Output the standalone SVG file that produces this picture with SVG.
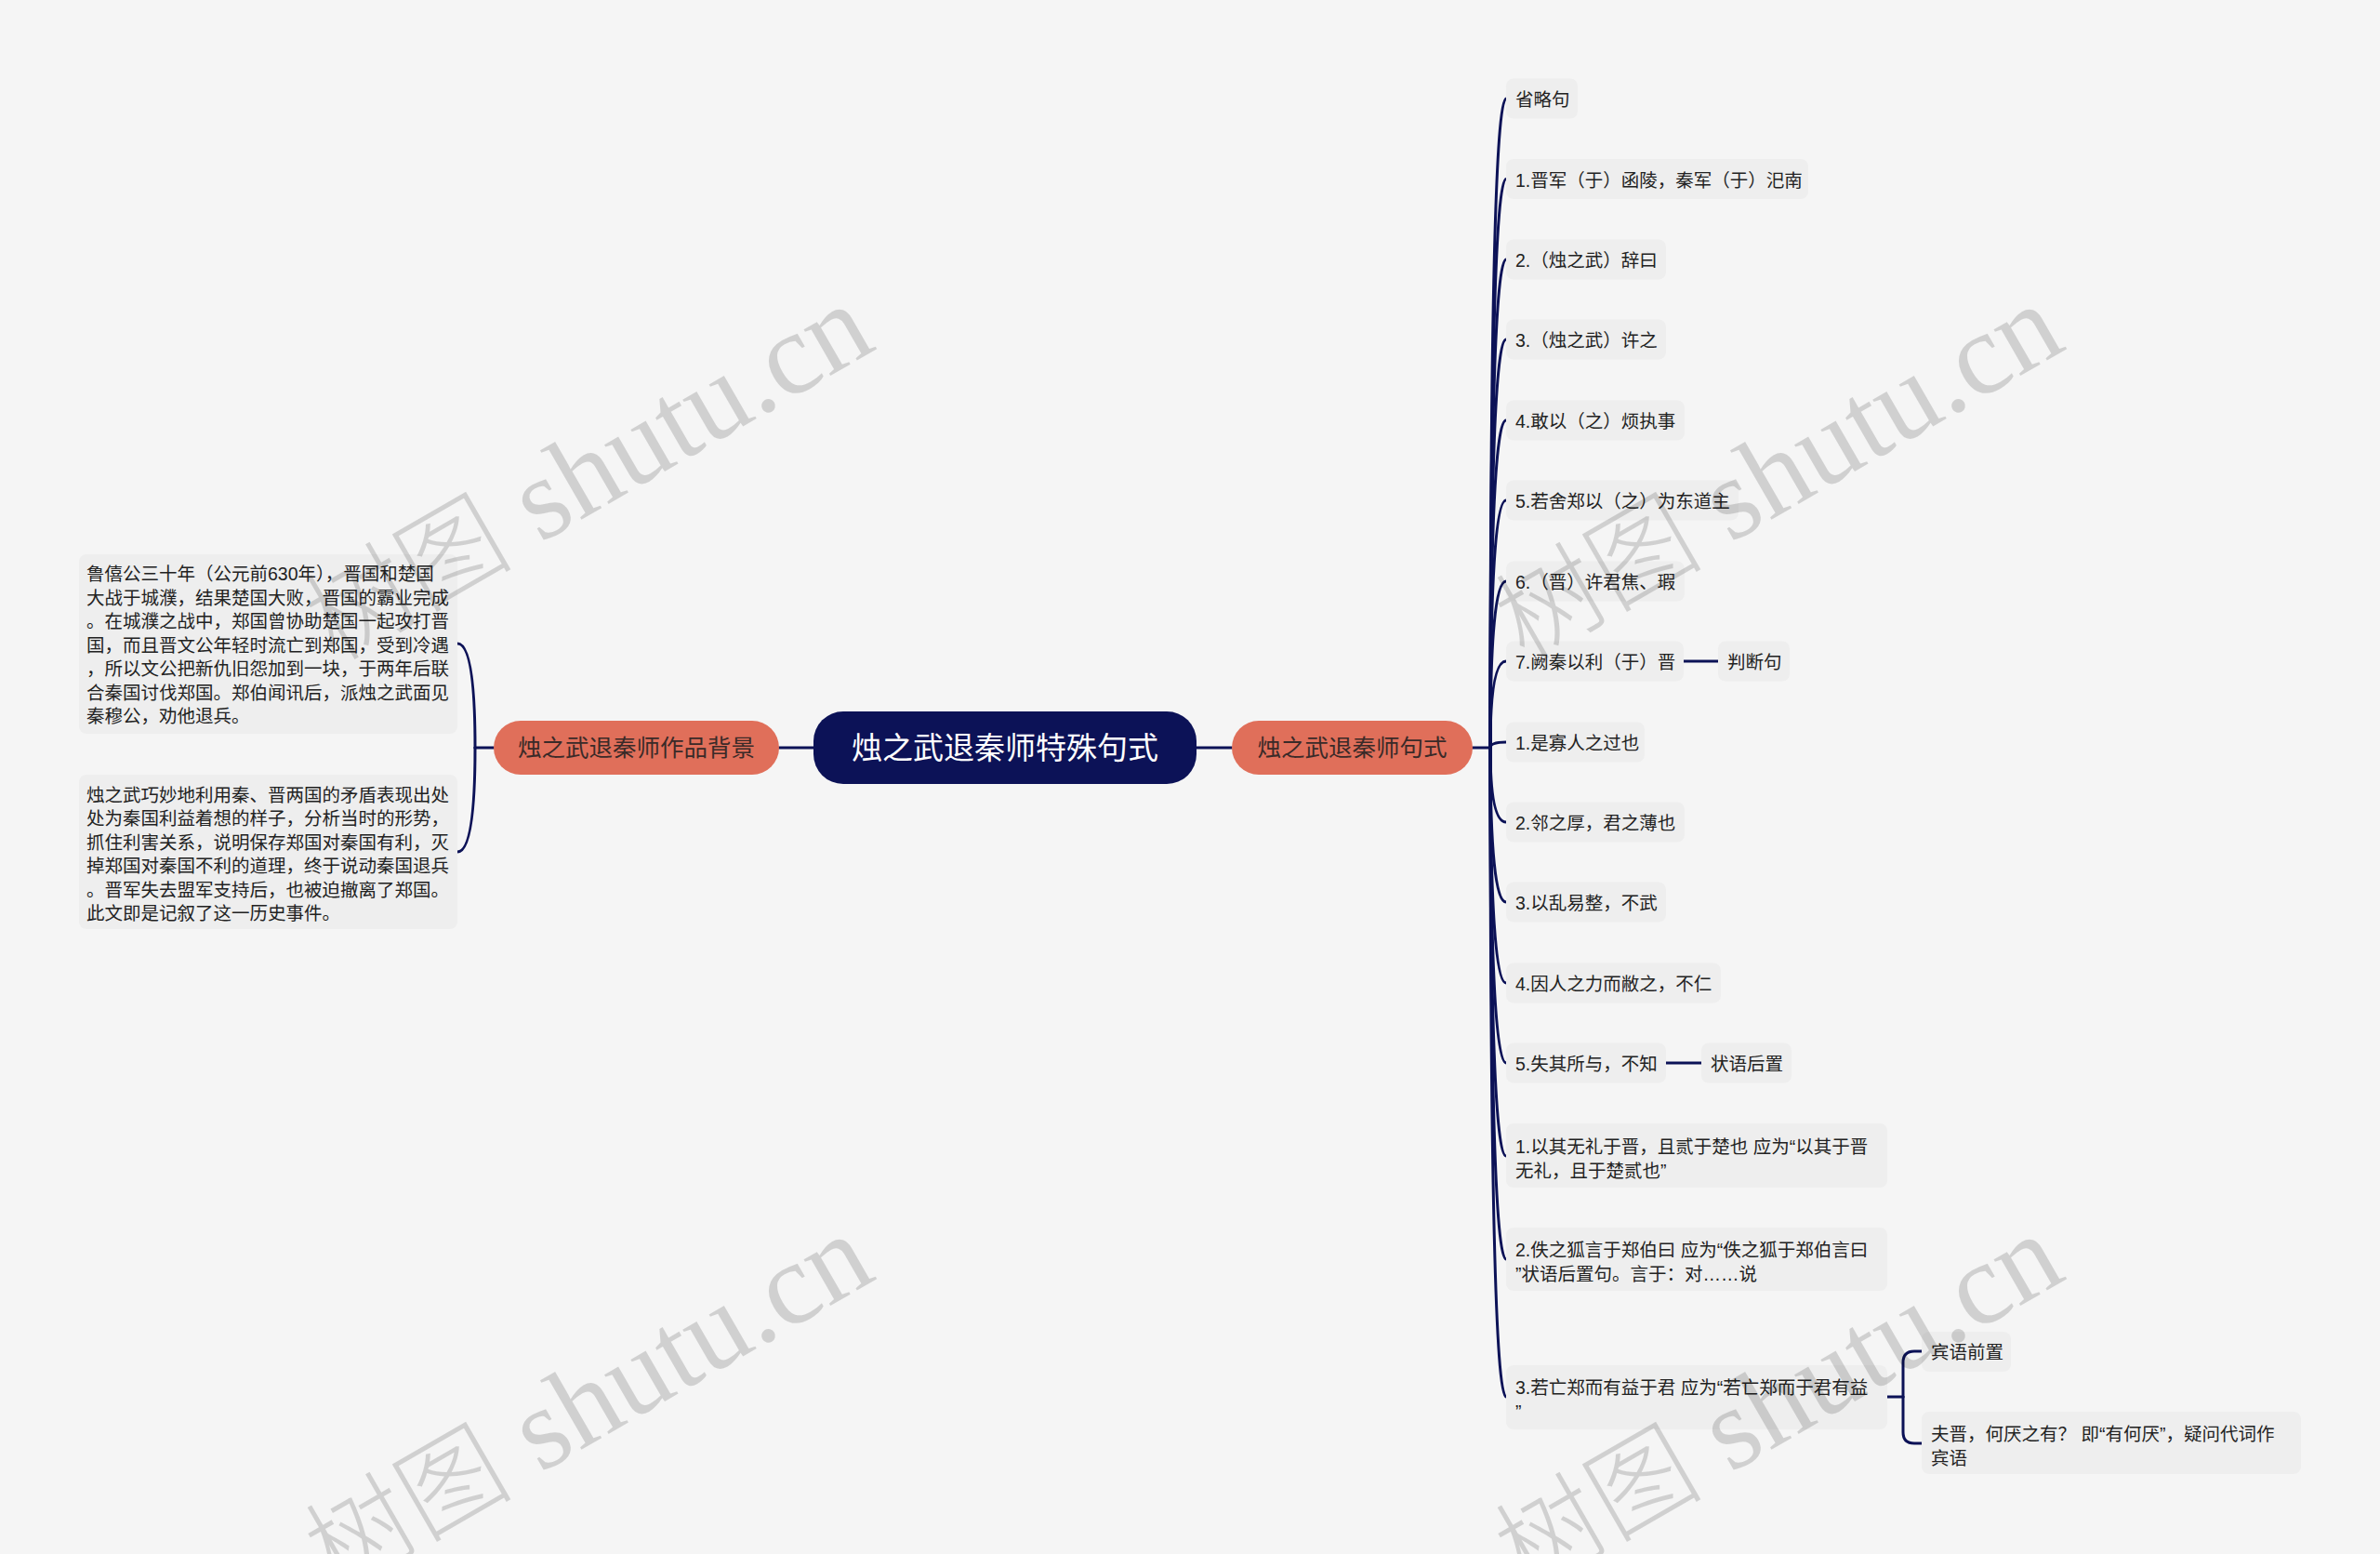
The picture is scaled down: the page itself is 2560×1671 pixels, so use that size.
<svg xmlns="http://www.w3.org/2000/svg" width="2560" height="1671" viewBox="0 0 2560 1671">
<style>
.bg{fill:#f5f5f5}
.box{fill:#eeeeee}
.t{font-family:"Liberation Sans","Noto Sans CJK SC",sans-serif;font-size:19.5px;fill:#222}
.root{fill:#0c1257}
.rt{font-family:"Liberation Sans","Noto Sans CJK SC",sans-serif;font-size:33px;fill:#ffffff;text-anchor:middle}
.br{fill:#e06f5a}
.bt{font-family:"Liberation Sans","Noto Sans CJK SC",sans-serif;font-size:25.5px;fill:#3a2a28;text-anchor:middle}
.ln{fill:none;stroke:#0c1257;stroke-width:3;stroke-linecap:round}
.wm{font-family:"Liberation Serif","Noto Sans CJK SC",serif;font-size:125px;fill:#000;fill-opacity:0.15}
.wc{font-size:112px;font-weight:300}
</style>
<rect class="bg" x="0" y="0" width="2560" height="1671"/>

<g id="connectors">
  <path class="ln" d="M875 804 H838"/>
  <path class="ln" d="M1287 804 H1325"/>
  <path class="ln" d="M531 804 H511"/>
  <path class="ln" d="M511 804 Q511 692 492 692"/>
  <path class="ln" d="M511 804 Q511 916 492 916"/>
  <path class="ln" d="M1584 804 H1603"/>
  <path class="ln" d="M1603 804 Q1603 106 1620 106"/>
  <path class="ln" d="M1603 804 Q1603 192.5 1620 192.5"/>
  <path class="ln" d="M1603 804 Q1603 279 1620 279"/>
  <path class="ln" d="M1603 804 Q1603 365 1620 365"/>
  <path class="ln" d="M1603 804 Q1603 452 1620 452"/>
  <path class="ln" d="M1603 804 Q1603 538 1620 538"/>
  <path class="ln" d="M1603 804 Q1603 625 1620 625"/>
  <path class="ln" d="M1603 804 Q1603 711 1620 711"/>
  <path class="ln" d="M1603 804 Q1603 798 1620 798"/>
  <path class="ln" d="M1603 804 Q1603 884 1620 884"/>
  <path class="ln" d="M1603 804 Q1603 970 1620 970"/>
  <path class="ln" d="M1603 804 Q1603 1057 1620 1057"/>
  <path class="ln" d="M1603 804 Q1603 1143 1620 1143"/>
  <path class="ln" d="M1603 804 Q1603 1243 1620 1243"/>
  <path class="ln" d="M1603 804 Q1603 1354 1620 1354"/>
  <path class="ln" d="M1603 804 Q1603 1502 1620 1502"/>
  <path class="ln" d="M1811 711 H1848"/>
  <path class="ln" d="M1792 1143 H1830"/>
  <path class="ln" d="M2030 1502 H2047"/>
  <path class="ln" d="M2047 1502 V1465 Q2047 1453 2059 1453 H2067"/>
  <path class="ln" d="M2047 1502 V1540 Q2047 1552 2059 1552 H2067"/>
</g>

<g id="root">
  <rect class="root" x="875" y="765" width="412" height="78" rx="32"/>
  <text class="rt" x="1081" y="816">烛之武退秦师特殊句式</text>
</g>

<g id="branch-left">
  <rect class="br" x="531" y="775" width="307" height="58" rx="29"/>
  <text class="bt" x="684.5" y="813">烛之武退秦师作品背景</text>
</g>

<g id="branch-right">
  <rect class="br" x="1325" y="775" width="259" height="58" rx="29"/>
  <text class="bt" x="1454.5" y="813">烛之武退秦师句式</text>
</g>

<g id="bg1">
  <rect class="box" x="85" y="596" width="407" height="193" rx="8"/>
  <text class="t">
    <tspan x="93" y="624">鲁僖公三十年（公元前630年），晋国和楚国</tspan>
    <tspan x="93" y="649.5">大战于城濮，结果楚国大败，晋国的霸业完成</tspan>
    <tspan x="93" y="675">。在城濮之战中，郑国曾协助楚国一起攻打晋</tspan>
    <tspan x="93" y="700.5">国，而且晋文公年轻时流亡到郑国，受到冷遇</tspan>
    <tspan x="93" y="726">，所以文公把新仇旧怨加到一块，于两年后联</tspan>
    <tspan x="93" y="751.5">合秦国讨伐郑国。郑伯闻讯后，派烛之武面见</tspan>
    <tspan x="93" y="777">秦穆公，劝他退兵。</tspan>
  </text>
</g>

<g id="bg2">
  <rect class="box" x="85" y="833" width="407" height="166" rx="8"/>
  <text class="t">
    <tspan x="93" y="861.5">烛之武巧妙地利用秦、晋两国的矛盾表现出处</tspan>
    <tspan x="93" y="887">处为秦国利益着想的样子，分析当时的形势，</tspan>
    <tspan x="93" y="912.5">抓住利害关系，说明保存郑国对秦国有利，灭</tspan>
    <tspan x="93" y="938">掉郑国对秦国不利的道理，终于说动秦国退兵</tspan>
    <tspan x="93" y="963.5">。晋军失去盟军支持后，也被迫撤离了郑国。</tspan>
    <tspan x="93" y="989">此文即是记叙了这一历史事件。</tspan>
  </text>
</g>

<g id="n-shenglue">
  <rect class="box" x="1620" y="84.5" width="77" height="43" rx="8"/>
  <text class="t" x="1630" y="114">省略句</text>
</g>
<g id="n-s1">
  <rect class="box" x="1620" y="171" width="325" height="43" rx="8"/>
  <text class="t" x="1630" y="200.5">1.晋军（于）函陵，秦军（于）汜南</text>
</g>
<g id="n-s2">
  <rect class="box" x="1620" y="257.5" width="172" height="43" rx="8"/>
  <text class="t" x="1630" y="287">2.（烛之武）辞曰</text>
</g>
<g id="n-s3">
  <rect class="box" x="1620" y="343.5" width="172" height="43" rx="8"/>
  <text class="t" x="1630" y="373">3.（烛之武）许之</text>
</g>
<g id="n-s4">
  <rect class="box" x="1620" y="430.5" width="192" height="43" rx="8"/>
  <text class="t" x="1630" y="460">4.敢以（之）烦执事</text>
</g>
<g id="n-s5">
  <rect class="box" x="1620" y="516.5" width="250" height="43" rx="8"/>
  <text class="t" x="1630" y="546">5.若舍郑以（之）为东道主</text>
</g>
<g id="n-s6">
  <rect class="box" x="1620" y="603.5" width="192" height="43" rx="8"/>
  <text class="t" x="1630" y="633">6.（晋）许君焦、瑕</text>
</g>
<g id="n-s7">
  <rect class="box" x="1620" y="689.5" width="191" height="43" rx="8"/>
  <text class="t" x="1630" y="719">7.阙秦以利（于）晋</text>
</g>
<g id="n-panduan">
  <rect class="box" x="1848" y="689.5" width="77" height="43" rx="8"/>
  <text class="t" x="1858" y="719">判断句</text>
</g>
<g id="n-p1">
  <rect class="box" x="1620" y="776.5" width="149" height="43" rx="8"/>
  <text class="t" x="1630" y="806">1.是寡人之过也</text>
</g>
<g id="n-p2">
  <rect class="box" x="1620" y="862.5" width="192" height="43" rx="8"/>
  <text class="t" x="1630" y="892">2.邻之厚，君之薄也</text>
</g>
<g id="n-p3">
  <rect class="box" x="1620" y="948.5" width="172" height="43" rx="8"/>
  <text class="t" x="1630" y="978">3.以乱易整，不武</text>
</g>
<g id="n-p4">
  <rect class="box" x="1620" y="1035.5" width="231" height="43" rx="8"/>
  <text class="t" x="1630" y="1065">4.因人之力而敝之，不仁</text>
</g>
<g id="n-p5">
  <rect class="box" x="1620" y="1121.5" width="172" height="43" rx="8"/>
  <text class="t" x="1630" y="1151">5.失其所与，不知</text>
</g>
<g id="n-zhuangyu">
  <rect class="box" x="1830" y="1121.5" width="97" height="43" rx="8"/>
  <text class="t" x="1840" y="1151">状语后置</text>
</g>
<g id="n-z1">
  <rect class="box" x="1620" y="1208" width="410" height="69" rx="8"/>
  <text class="t">
    <tspan x="1630" y="1240">1.以其无礼于晋，且贰于楚也 应为“以其于晋</tspan>
    <tspan x="1630" y="1265.5">无礼，且于楚贰也”</tspan>
  </text>
</g>
<g id="n-z2">
  <rect class="box" x="1620" y="1320" width="410" height="68" rx="8"/>
  <text class="t">
    <tspan x="1630" y="1351">2.佚之狐言于郑伯曰 应为“佚之狐于郑伯言曰</tspan>
    <tspan x="1630" y="1376.5">”状语后置句。言于：对……说</tspan>
  </text>
</g>
<g id="n-z3">
  <rect class="box" x="1620" y="1468" width="410" height="69" rx="8"/>
  <text class="t">
    <tspan x="1630" y="1499">3.若亡郑而有益于君 应为“若亡郑而于君有益</tspan>
    <tspan x="1630" y="1524.5">”</tspan>
  </text>
</g>
<g id="n-binyu">
  <rect class="box" x="2067" y="1432" width="96" height="43" rx="8"/>
  <text class="t" x="2077" y="1461">宾语前置</text>
</g>
<g id="n-fujin">
  <rect class="box" x="2067" y="1518" width="408" height="67" rx="8"/>
  <text class="t">
    <tspan x="2077" y="1549">夫晋，何厌之有？ 即“有何厌”，疑问代词作</tspan>
    <tspan x="2077" y="1574.5">宾语</tspan>
  </text>
</g>

<g id="watermarks">
  <text class="wm" transform="translate(360 712) rotate(-30)"><tspan class="wc">树图</tspan> shutu.cn</text>
  <text class="wm" transform="translate(1640 712) rotate(-30)"><tspan class="wc">树图</tspan> shutu.cn</text>
  <text class="wm" transform="translate(360 1712) rotate(-30)"><tspan class="wc">树图</tspan> shutu.cn</text>
  <text class="wm" transform="translate(1640 1712) rotate(-30)"><tspan class="wc">树图</tspan> shutu.cn</text>
</g>
</svg>
